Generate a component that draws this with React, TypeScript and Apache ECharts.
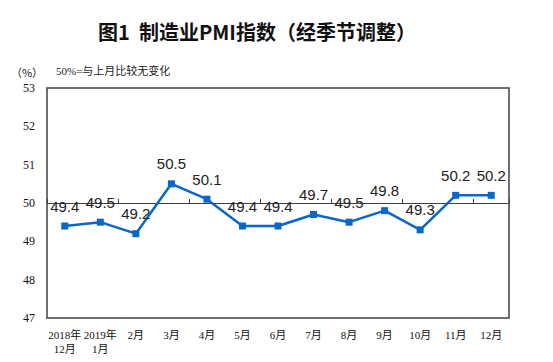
import React, { useEffect, useRef } from "react";
import * as echarts from "echarts";

const categories = [
  "2018年\n12月", "2019年\n1月", "2月", "3月", "4月", "5月", "6月",
  "7月", "8月", "9月", "10月", "11月", "12月",
];
const pmiValues = [49.4, 49.5, 49.2, 50.5, 50.1, 49.4, 49.4, 49.7, 49.5, 49.8, 49.3, 50.2, 50.2];
const yTicks = { min: 47, max: 53, interval: 1 };
const titleText = "图1  制造业PMI指数（经季节调整）";
const unitText = "（%）";
const noteText = "50%=与上月比较无变化";

const GRID = { left: 47, right: 44, top: 88, bottom: 44 };

export default function App() {
  const ref = useRef<HTMLDivElement>(null);
  useEffect(() => {
    if (!ref.current) return;
    const chart = echarts.init(ref.current, null, { renderer: "svg" });
    const gridHeight = 362 - GRID.top - GRID.bottom;
    const zeroOffset = -gridHeight * ((50 - yTicks.min) / (yTicks.max - yTicks.min));
    chart.setOption({
      animation: false,
      backgroundColor: "#ffffff",
      grid: {
        left: GRID.left,
        right: GRID.right,
        top: GRID.top,
        bottom: GRID.bottom,
        show: true,
        borderColor: "#404040",
        borderWidth: 1.5,
      },
      graphic: [
        {
          type: "text",
          x: 257,
          y: 31,
          style: {
            text: titleText,
            fontFamily: "'Noto Sans CJK SC', sans-serif",
            fontWeight: "bold",
            fontSize: 20,
            fill: "#111",
            align: "center",
            verticalAlign: "middle",
          },
        },
        {
          type: "text",
          x: 27,
          y: 72,
          style: {
            text: unitText,
            fontFamily: "'Noto Sans CJK SC', sans-serif",
            fontSize: 11,
            fill: "#222",
            align: "center",
            verticalAlign: "middle",
          },
        },
        {
          type: "text",
          x: 56,
          y: 71,
          style: {
            text: noteText,
            fontFamily: "'Liberation Serif', 'Noto Sans CJK SC', serif",
            fontSize: 11,
            fill: "#222",
            align: "left",
            verticalAlign: "middle",
          },
        },
      ],
      xAxis: [
        {
          type: "category",
          data: categories,
          boundaryGap: true,
          axisLine: { show: false },
          axisTick: { show: false },
          axisLabel: {
            interval: 0,
            margin: 10,
            color: "#111",
            fontSize: 11,
            lineHeight: 14,
            fontFamily: "'Liberation Serif', 'Noto Sans CJK SC', serif",
          },
          splitLine: { show: false },
        },
        {
          type: "category",
          data: categories,
          boundaryGap: true,
          position: "bottom",
          offset: zeroOffset,
          axisLine: { show: true, lineStyle: { color: "#404040", width: 1.2 } },
          axisTick: { show: true, inside: true, length: 4, lineStyle: { color: "#404040" } },
          axisLabel: { show: false },
          splitLine: { show: false },
        },
      ],
      yAxis: {
        type: "value",
        min: yTicks.min,
        max: yTicks.max,
        interval: yTicks.interval,
        axisLine: { show: false },
        axisTick: { show: false },
        splitLine: { show: false },
        axisLabel: {
          margin: 12,
          color: "#111",
          fontSize: 12,
          fontFamily: "'Liberation Serif', serif",
        },
      },
      series: [
        {
          type: "line",
          data: pmiValues,
          xAxisIndex: 0,
          symbol: "rect",
          symbolSize: 7,
          lineStyle: { color: "#0A66C8", width: 2.5 },
          itemStyle: { color: "#0A66C8" },
          label: {
            show: true,
            position: "top",
            distance: 9,
            color: "#222",
            fontSize: 15,
            fontFamily: "'Liberation Sans', Arial, sans-serif",
            formatter: (p: any) => p.value.toFixed(1),
          },
          z: 3,
        },
      ],
    });
    return () => chart.dispose();
  }, []);
  return (
    <div
      ref={ref}
      style={{ position: "fixed", left: 0, top: 0, width: 553, height: 362 }}
    />
  );
}
